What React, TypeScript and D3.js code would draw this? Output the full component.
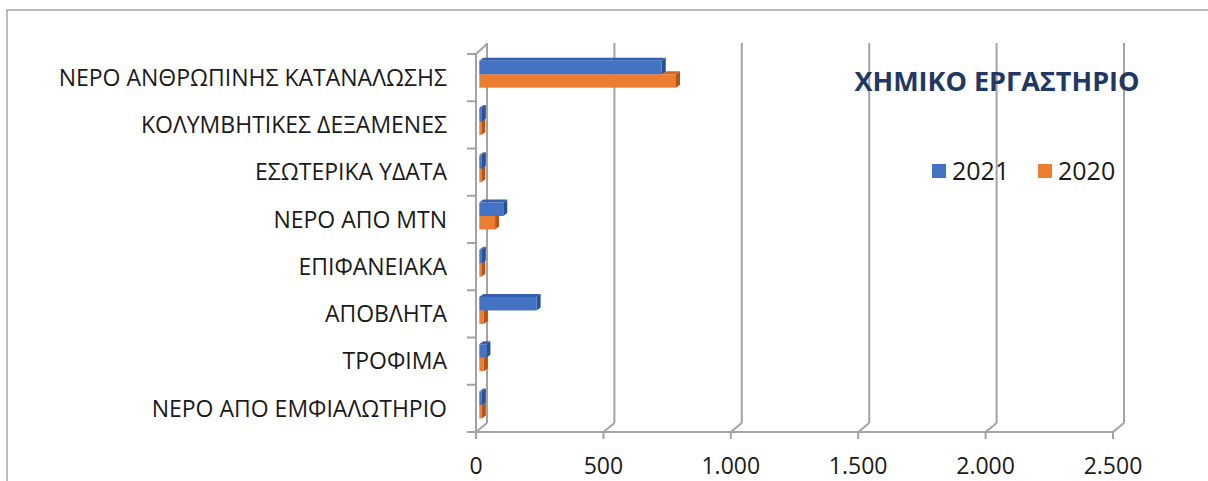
import React from "react";
import * as d3 from "d3";

const categories = [
  "ΝΕΡΟ ΑΝΘΡΩΠΙΝΗΣ ΚΑΤΑΝΑΛΩΣΗΣ",
  "ΚΟΛΥΜΒΗΤΙΚΕΣ ΔΕΞΑΜΕΝΕΣ",
  "ΕΣΩΤΕΡΙΚΑ ΥΔΑΤΑ",
  "ΝΕΡΟ ΑΠΟ ΜΤΝ",
  "ΕΠΙΦΑΝΕΙΑΚΑ",
  "ΑΠΟΒΛΗΤΑ",
  "ΤΡΟΦΙΜΑ",
  "ΝΕΡΟ ΑΠΟ ΕΜΦΙΑΛΩΤΗΡΙΟ",
];
const values2021 = [716, 10, 10, 94, 10, 225, 28, 10];
const values2020 = [772, 8, 8, 62, 8, 18, 18, 10];
const xTicks = [0, 500, 1000, 1500, 2000, 2500];
const tickLabels = ["0", "500", "1.000", "1.500", "2.000", "2.500"];
const seriesNames = ["2021", "2020"];
const title = "ΧΗΜΙΚΟ ΕΡΓΑΣΤΗΡΙΟ";

const FONT = "'Open Sans', 'Noto Sans', sans-serif";
const GRID = "#a3a3a3";

export default function App() {
  const W = 1208;
  const H = 481;
  const x = d3.scaleLinear().domain([0, 2500]).range([476, 1113]);
  const y = d3.scaleBand<string>().domain(categories).range([54, 432]).padding(0);
  const DX = 11; // wall depth
  const DY = -9;
  const floorY = 432;
  const backTop = 43;
  const bw = y.bandwidth();
  const barH = bw * 0.285;
  const bOffX = 3.3;
  const bOffY = -3.4;
  const sX = 4; // bar side depth
  const sY = -3;

  const colors = {
    b: { front: "#4472c4", top: "#3660ad", side: "#2c4f8f" },
    o: { front: "#ed7d31", top: "#cf6a25", side: "#b0561a" },
  };

  const bar = (x0: number, x1: number, y0: number, c: { front: string; top: string; side: string }, key: string) => {
    const h = barH;
    return (
      <g key={key}>
        <polygon points={`${x0},${y0} ${x0 + sX},${y0 + sY} ${x1 + sX},${y0 + sY} ${x1},${y0}`} fill={c.top} />
        <polygon points={`${x1},${y0} ${x1 + sX},${y0 + sY} ${x1 + sX},${y0 + h + sY} ${x1},${y0 + h}`} fill={c.side} />
        <rect x={x0} y={y0} width={Math.max(0, x1 - x0)} height={h} fill={c.front} />
      </g>
    );
  };

  return (
    <svg width={W} height={H} style={{ position: "absolute", left: 0, top: 0, background: "#fff" }}>
      <rect x={7} y={10} width={1215} height={490} fill="#fff" stroke="#a6a6a6" strokeWidth={1.5} />

      {/* back wall gridlines */}
      {xTicks.map((t) => (
        <line key={"g" + t} x1={x(t) + DX} x2={x(t) + DX} y1={backTop} y2={floorY + DY} stroke={GRID} strokeWidth={2} />
      ))}
      {/* floor diagonals */}
      {xTicks.map((t) => (
        <line key={"d" + t} x1={x(t)} x2={x(t) + DX} y1={floorY} y2={floorY + DY} stroke={GRID} strokeWidth={2} />
      ))}
      {/* left wall front edge & top */}
      <line x1={x(0)} x2={x(0)} y1={54} y2={floorY} stroke={GRID} strokeWidth={2} />
      <line x1={x(0)} x2={x(0) + DX} y1={54} y2={backTop + 1} stroke={GRID} strokeWidth={2} />
      {/* front floor edge */}
      <line x1={x(0)} x2={x(2500)} y1={floorY} y2={floorY} stroke={GRID} strokeWidth={2} />
      {/* x ticks */}
      {xTicks.map((t) => (
        <line key={"t" + t} x1={x(t)} x2={x(t)} y1={floorY} y2={floorY + 7} stroke={GRID} strokeWidth={2} />
      ))}
      {/* category ticks */}
      {[...categories.map((c) => y(c) as number), 432].map((v, i) => (
        <line key={"ct" + i} x1={467} x2={x(0)} y1={v} y2={v} stroke={GRID} strokeWidth={2} />
      ))}

      {/* bars */}
      {categories.map((c, i) => {
        const yc = (y(c) as number) + bw / 2;
        const top = yc - barH + bOffY;
        const x0 = x(0) + bOffX;
        const scale = (v: number) => x(v) + bOffX;
        return (
          <g key={"bar" + i}>
            {bar(x0, scale(values2020[i]), top + barH, colors.o, "o" + i)}
            {bar(x0, scale(values2021[i]), top, colors.b, "b" + i)}
          </g>
        );
      })}

      {/* category labels */}
      {categories.map((c) => (
        <text key={"l" + c} x={447} y={(y(c) as number) + bw / 2} dy="0.36em" textAnchor="end" fontFamily={FONT} fontSize={23} fill="#1a1a1a">
          {c}
        </text>
      ))}
      {/* x tick labels */}
      {xTicks.map((t, i) => (
        <text key={"xl" + t} x={x(t)} y={466} dy="0.36em" textAnchor="middle" fontFamily={FONT} fontSize={23} fill="#1a1a1a">
          {tickLabels[i]}
        </text>
      ))}

      {/* title */}
      <text x={997} y={81} dy="0.36em" textAnchor="middle" fontFamily={FONT} fontWeight="bold" fontSize={27} fill="#1f3864">
        {title}
      </text>

      {/* legend */}
      <rect x={932} y={164} width={14} height={14} fill={colors.b.front} />
      <text x={952} y={171} dy="0.36em" fontFamily={FONT} fontSize={25} fill="#1a1a1a">{seriesNames[0]}</text>
      <rect x={1038} y={164} width={14} height={14} fill={colors.o.front} />
      <text x={1058} y={171} dy="0.36em" fontFamily={FONT} fontSize={25} fill="#1a1a1a">{seriesNames[1]}</text>
    </svg>
  );
}
